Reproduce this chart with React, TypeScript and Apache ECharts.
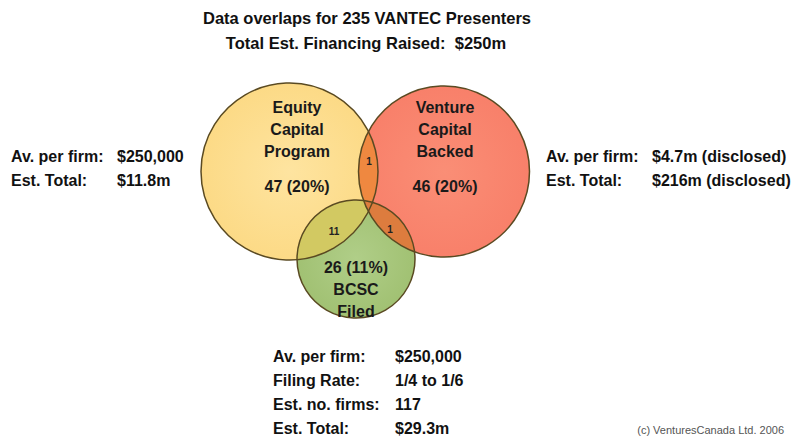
import React, { useEffect, useRef } from "react";
import * as echarts from "echarts";

// ---------- data ----------
const titleLines = ["Data overlaps for 235 VANTEC Presenters", "Total Est. Financing Raised:  $250m"];
const setNames = ["Equity\nCapital\nProgram", "Venture\nCapital\nBacked", "BCSC\nFiled"];
const setCounts = [47, 46, 26];
const setPercents = [20, 20, 11];
const overlapPairs = [[0, 1], [0, 2], [1, 2]];
const overlapCounts = [1, 11, 1];
const leftLabels = ["Av. per firm:", "Est. Total:"];
const leftValues = ["$250,000", "$11.8m"];
const rightLabels = ["Av. per firm:", "Est. Total:"];
const rightValues = ["$4.7m (disclosed)", "$216m (disclosed)"];
const bottomLabels = ["Av. per firm:", "Filing Rate:", "Est. no. firms:", "Est. Total:"];
const bottomValues = ["$250,000", "1/4 to 1/6", "117", "$29.3m"];
const credit = "(c) VenturesCanada Ltd. 2006";

// ---------- layout (chart units == pixels) ----------
const CIRCLES = [
  { cx: 289.5, cy: 171.5, r: 88.5 },
  { cx: 444, cy: 171.5, r: 85.5 },
  { cx: 356, cy: 259, r: 59 },
];
const NAME_POS = [[297, 129], [445, 129], [356, 300]];
const COUNT_POS = [[297, 186], [445, 186], [356, 267]];
const LENS_LABEL_POS = [[369, 161], [334, 231], [390, 229]];

const FONT = "'Liberation Sans', Arial, Helvetica, sans-serif";
const STROKE = "#5a4a22";

const FILLS = [
  ["#fee4a0", "#fcda86"],
  ["#fa8e76", "#f8806a"],
  ["#b0ce88", "#a1c173"],
];
const LENS_FILLS = ["#ef8840", "#d2c962", "#dd7c3e"];

function radial(c: string[]) {
  return new echarts.graphic.RadialGradient(0.5, 0.5, 0.5, [
    { offset: 0, color: c[0] },
    { offset: 1, color: c[1] },
  ]);
}

function pix(api: any, i: number) {
  const c = CIRCLES[i];
  const p = api.coord([c.cx, c.cy]);
  const r = api.size([c.r, 0])[0];
  return { x: p[0], y: p[1], r };
}

function lensPoints(a: any, b: any, n = 48) {
  const dx = b.x - a.x;
  const dy = b.y - a.y;
  const d = Math.hypot(dx, dy);
  const ang = Math.atan2(dy, dx);
  const alpha = Math.acos((d * d + a.r * a.r - b.r * b.r) / (2 * d * a.r));
  const beta = Math.acos((d * d + b.r * b.r - a.r * a.r) / (2 * d * b.r));
  const pts: number[][] = [];
  for (let k = 0; k <= n; k++) {
    const t = ang - alpha + (2 * alpha * k) / n;
    pts.push([a.x + a.r * Math.cos(t), a.y + a.r * Math.sin(t)]);
  }
  const bang = ang + Math.PI;
  for (let k = 0; k <= n; k++) {
    const t = bang - beta + (2 * beta * k) / n;
    pts.push([b.x + b.r * Math.cos(t), b.y + b.r * Math.sin(t)]);
  }
  return pts;
}

function blockTexts(labels: string[], values: string[], lx: number, vx: number, y0: number, dy: number) {
  const out: any[] = [];
  labels.forEach((t, i) => {
    out.push({
      type: "text",
      left: lx,
      top: y0 + i * dy - 9,
      style: { text: t, font: `bold 16px ${FONT}`, fill: "#111" },
    });
    out.push({
      type: "text",
      left: vx,
      top: y0 + i * dy - 9,
      style: { text: values[i], font: `bold 16px ${FONT}`, fill: "#111" },
    });
  });
  return out;
}

export default function App() {
  const ref = useRef<HTMLDivElement>(null);
  useEffect(() => {
    if (!ref.current) return;
    const chart = echarts.init(ref.current, null, { renderer: "svg" });
    const graphic: any[] = [
      {
        type: "text",
        x: 367,
        y: 18,
        style: { text: titleLines[0], font: `bold 16.5px ${FONT}`, fill: "#111", align: "center", verticalAlign: "middle" },
      },
      {
        type: "text",
        x: 366,
        y: 43,
        style: { text: titleLines[1], font: `bold 16.5px ${FONT}`, fill: "#111", align: "center", verticalAlign: "middle" },
      },
      ...blockTexts(leftLabels, leftValues, 11, 117, 157, 24),
      ...blockTexts(rightLabels, rightValues, 546, 652, 157, 24),
      ...blockTexts(bottomLabels, bottomValues, 273, 395, 357, 24),
      {
        type: "text",
        right: 12,
        top: 424,
        style: { text: credit, font: `11px ${FONT}`, fill: "#555" },
      },
    ];

    const setData = setCounts.map((v, i) => [i, v, setPercents[i]]);
    const lensData = overlapCounts.map((v, i) => [i, v]);

    chart.setOption({
      animation: false,
      grid: { left: 0, right: 0, top: 0, bottom: 0 },
      xAxis: { type: "value", min: 0, max: 796, show: false },
      yAxis: { type: "value", min: 0, max: 438, inverse: true, show: false },
      graphic,
      series: [
        {
          type: "custom",
          z: 1,
          silent: true,
          data: setData,
          renderItem: (params: any, api: any) => {
            const i = api.value(0);
            const c = pix(api, i);
            return {
              type: "circle",
              shape: { cx: c.x, cy: c.y, r: c.r },
              style: { fill: radial(FILLS[i]) },
            };
          },
        },
        {
          type: "custom",
          z: 2,
          silent: true,
          data: lensData,
          renderItem: (params: any, api: any) => {
            const k = api.value(0);
            const [ia, ib] = overlapPairs[k];
            const a = pix(api, ia);
            const b = pix(api, ib);
            const lp = api.coord(LENS_LABEL_POS[k]);
            return {
              type: "group",
              children: [
                {
                  type: "polygon",
                  shape: { points: lensPoints(a, b) },
                  style: { fill: LENS_FILLS[k] },
                },
                {
                  type: "text",
                  style: {
                    text: String(api.value(1)),
                    x: lp[0],
                    y: lp[1],
                    font: `bold 10px ${FONT}`,
                    fill: "#222",
                    align: "center",
                    verticalAlign: "middle",
                  },
                },
              ],
            };
          },
        },
        {
          type: "custom",
          z: 3,
          silent: true,
          data: setData,
          renderItem: (params: any, api: any) => {
            const i = api.value(0);
            const c = pix(api, i);
            const np = api.coord(NAME_POS[i]);
            const cp = api.coord(COUNT_POS[i]);
            return {
              type: "group",
              children: [
                {
                  type: "circle",
                  shape: { cx: c.x, cy: c.y, r: c.r },
                  style: { fill: "none", stroke: STROKE, lineWidth: 1.5 },
                },
                {
                  type: "text",
                  style: {
                    text: setNames[i],
                    x: np[0],
                    y: np[1],
                    font: `bold 16px ${FONT}`,
                    lineHeight: 22,
                    fill: "#1a1a1a",
                    align: "center",
                    verticalAlign: "middle",
                  },
                },
                {
                  type: "text",
                  style: {
                    text: `${api.value(1)} (${api.value(2)}%)`,
                    x: cp[0],
                    y: cp[1],
                    font: `bold 16px ${FONT}`,
                    fill: "#1a1a1a",
                    align: "center",
                    verticalAlign: "middle",
                  },
                },
              ],
            };
          },
        },
      ],
    });
    return () => chart.dispose();
  }, []);

  return (
    <div
      ref={ref}
      style={{ position: "fixed", left: 0, top: 0, width: 796, height: 438, background: "#fff" }}
    />
  );
}
